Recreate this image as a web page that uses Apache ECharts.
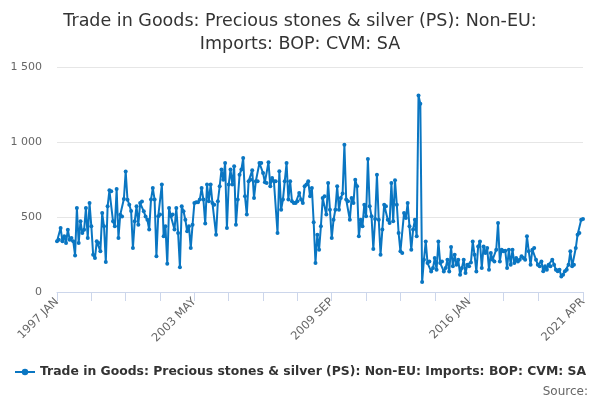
<!DOCTYPE html>
<html>
<head>
<meta charset="utf-8">
<script src="https://cdn.jsdelivr.net/npm/echarts@6/dist/echarts.min.js"></script>
<style>
html,body{margin:0;padding:0;background:#fff}
#main{width:600px;height:400px}
</style>
</head>
<body>
<div id="main"></div>
<script>
// categories: monthly, 1997 JAN .. 2021 APR
var monthNames = ['JAN','FEB','MAR','APR','MAY','JUN','JUL','AUG','SEP','OCT','NOV','DEC'];
var startYear = 1997, endYear = 2021, endMonth = 4;
var months = [];
for (var y = startYear; y <= endYear; y++) {
	for (var m = 0; m < 12; m++) {
		if (y == endYear && m >= endMonth) break;
		months.push(y + ' ' + monthNames[m]);
	}
}

// values (£ million)
var imports1997 = [338,349,427,338,371,327,415,349,360,338, 244,560,327,471,393,415,560,360,593,438,
	249,227,338,327,271,526,438,200,571,678, 671,471,438,687,360,515,504,620,804,615,
	582,540,293,471,571,449,593,604,538,504, 482];
var imports2001 = [416,616,693,616,238,505,516,716,371,438, 189,560,505,516,416,560,393,165,571,538,
	482,405,438,293,449,593,598,598,616,693, 616,456,716,605,716,593,582,382,605,705,
	816,749,860,427,716,816,716,838,449,616, 782,816,893];
var imports2005 = [638,516,738,749,811,627,738,738,860,860, 793,731,727,865,705,760,738,738,393,805,
	549,616,738,860,616,738,605,593,593,605, 660,616,593,705,716,738,638,693,465,193,
	382,282,438,627,638,516,727,549,360,482, 549,705,549];
var imports2010 = [627,656,982,616,605,482,627,593,749,705, 371,482,438,582,505,887,571,505,287,487,
	782,482,249,416,582,571,482,460,727,471, 745,582,393,271,260,527,493,593,438,282,
	416,482,371];
var importsSpike = [1310,1255,66];
var imports2013 = [215,337,193,204,137,160,226,149,337,193, 204,137,160,215,137,300,171,248,182,215,
	115,160,215,126,182,171,197,337,248,137, 304,337,160,304,260,293,149,260,215,204,
	282,460];
var imports2017 = [204,282,271,275,160,282,182,282,193,226, 204,215,238,226,215,371,271,182,282,293,
	215,182,171,204,138,171,149,182,171,215, 182,149,138,149,104,115,138,149,182,271,
	171,182,293,382,393,482,487];
var values = [].concat(imports1997, imports2001, imports2005, imports2010, importsSpike, imports2013, imports2017);

var yTicks = [0, 500, 1000, 1500];
var seriesName = 'Trade in Goods: Precious stones & silver (PS): Non-EU: Imports: BOP: CVM: SA';
var lastIdx = months.length - 1;

var myChart = echarts.init(document.getElementById('main'));
var option = {
	backgroundColor: '#fff',
	textStyle: {fontFamily: 'DejaVu Sans'},
	title: {
		text: 'Trade in Goods: Precious stones & silver (PS): Non-EU:\nImports: BOP: CVM: SA',
		left: 'center',
		top: 5,
		textStyle: {fontSize: 17.5, fontWeight: 'normal', color: '#333', lineHeight: 23, align: 'center'}
	},
	grid: {left: 57, right: 17, top: 67, bottom: 108},
	legend: {
		bottom: 17,
		left: 'center',
		itemWidth: 20,
		itemHeight: 8,
		itemGap: 6,
		textStyle: {fontSize: 12.4, fontWeight: 'bold', color: '#333'},
		data: [seriesName]
	},
	graphic: [{
		type: 'text',
		right: 12,
		bottom: 2,
		style: {text: 'Source:', fill: '#666', font: '12px DejaVu Sans'}
	}],
	xAxis: {
		type: 'category',
		boundaryGap: false,
		data: months,
		axisLine: {lineStyle: {color: '#ccd6eb'}},
		axisTick: {
			length: 9,
			lineStyle: {color: '#ccd6eb'},
			interval: function (i) { return (i % 19 == 0 && i < 280) || i == lastIdx; }
		},
		axisLabel: {
			rotate: 45,
			color: '#666',
			fontSize: 11.5,
			margin: 8,
			interval: function (i) { return i % 76 == 0 || i == lastIdx; }
		}
	},
	yAxis: {
		type: 'value',
		min: yTicks[0],
		max: yTicks[yTicks.length - 1],
		interval: 500,
		axisLine: {show: false},
		axisTick: {show: false},
		splitLine: {lineStyle: {color: '#e6e6e6'}},
		axisLabel: {
			color: '#666',
			fontSize: 11,
			margin: 15,
			formatter: function (v) { return String(v).replace(/\B(?=(\d{3})+(?!\d))/g, ' '); }
		}
	},
	series: [{
		name: seriesName,
		type: 'line',
		data: values,
		symbol: 'circle',
		symbolSize: 4,
		showAllSymbol: true,
		itemStyle: {color: '#0a76c2'},
		lineStyle: {width: 2, color: '#0a76c2'}
	}]
};
myChart.setOption(option);
</script>
</body>
</html>
